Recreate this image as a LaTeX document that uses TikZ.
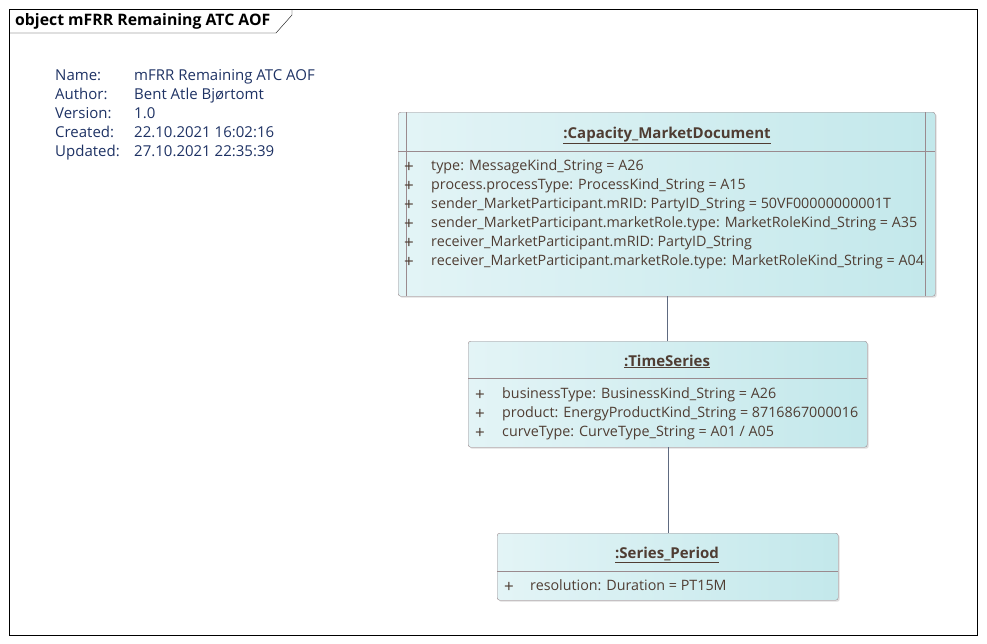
\documentclass[tikz,border=0pt]{standalone}
\usepackage{fontspec}
\setmainfont{Open Sans}
\usepackage{tikz}
\usetikzlibrary{positioning, calc, shadows}
\definecolor{EAFrame}{HTML}{000000}
\definecolor{EAInfo}{HTML}{1E3264}
\definecolor{EABorder}{HTML}{9A8A8E}
\definecolor{EAText}{HTML}{4F3D33}
\definecolor{EAFillLeft}{HTML}{E3F4F6}
\definecolor{EAFillRight}{HTML}{C3E8EB}
\definecolor{EALink}{HTML}{5E6A80}
\tikzset{
    % Object boxes
    objbox/.style={
        rectangle,
        draw=EABorder,
        rounded corners=2.5pt,
        left color=EAFillLeft,
        right color=EAFillRight,
        anchor=north west,
        inner sep=0pt,
        drop shadow={shadow xshift=1.5pt, shadow yshift=-1.5pt, fill=black!22, opacity=0.6}
    },
    objline/.style={
        draw=EABorder
    },
    objtitle/.style={
        inner sep=0pt,
        text=EAText,
        text height=11pt,
        text depth=3pt,
        font=\fontsize{15}{17}\selectfont\bfseries
    },
    attrtext/.style={
        anchor=west,
        inner sep=0pt,
        text=EAText,
        text height=10.5pt,
        text depth=3pt,
        font=\fontsize{14.3}{17}\selectfont
    },
    visibility/.style={
        attrtext,
        font=\fontsize{17}{17}\selectfont
    },
    % Header texts
    infotext/.style={
        anchor=west,
        inner sep=0pt,
        text=EAInfo,
        text height=11pt,
        text depth=3pt,
        font=\fontsize{15}{17}\selectfont
    },
    % Links
    assoc/.style={
        draw=EALink,
        thin
    }
}

\begin{document}
\begin{tikzpicture}[x=1pt, y=-1pt]
    \useasboundingbox (0,0) rectangle (987,643);

    % Frame
    \draw[EAFrame, thin] (9,9) rectangle (977,635);
    \draw[EAFrame, thin] (9,33) -- (276,33) -- (292,15) -- (292,9);
    \node[anchor=west, inner sep=0pt, text height=11pt, text depth=3pt, font=\fontsize{15.8}{17}\selectfont\bfseries] (frametitle) at (15,21) {object mFRR Remaining ATC AOF};

    % Diagram info
    \foreach \k/\v [count=\i] in {Name:/mFRR Remaining ATC AOF, Author:/Bent Atle Bjørtomt, Version:/1.0, Created:/22.10.2021 16:02:16, Updated:/27.10.2021 22:35:39} {
        \node[infotext] (key\i) at (55, 57+19*\i) {\k};
        \node[infotext] (val\i) at (134, 57+19*\i) {\v};
    }

    % Capacity_MarketDocument
    \node[objbox, minimum width=537, minimum height=184] (cmd) at (398,112) {};
    \draw[objline] ($(cmd.north west)+(8,0)$) -- ($(cmd.south west)+(8,0)$);
    \draw[objline] ($(cmd.north east)+(-10,0)$) -- ($(cmd.south east)+(-10,0)$);
    \draw[objline] (cmd.west |- 0,151) -- (cmd.east |- 0,151);
    \node[objtitle] (cmdtitle) at (667,134) {\underline{:Capacity\_MarketDocument}};
    \foreach \a [count=\i] in {
        type: MessageKind\_String = A26,
        process.processType: ProcessKind\_String = A15,
        sender\_MarketParticipant.mRID: PartyID\_String = 50VF00000000001T,
        sender\_MarketParticipant.marketRole.type: MarketRoleKind\_String = A35,
        receiver\_MarketParticipant.mRID: PartyID\_String,
        receiver\_MarketParticipant.marketRole.type: MarketRoleKind\_String = A04} {
        \node[visibility] (cmdvis\i) at (404, 150+19*\i) {+};
        \node[attrtext] (cmdattr\i) at (431, 148+19*\i) {\a};
    }

    % TimeSeries
    \node[objbox, minimum width=399, minimum height=106] (ts) at (468,341) {};
    \draw[objline] (ts.west |- 0,378) -- (ts.east |- 0,378);
    \node[objtitle] (tstitle) at (667,362) {\underline{:TimeSeries}};
    \foreach \a [count=\i] in {
        businessType: BusinessKind\_String = A26,
        product: EnergyProductKind\_String = 8716867000016,
        curveType: CurveType\_String = A01 / A05} {
        \node[visibility] (tsvis\i) at (475, 378+19*\i) {+};
        \node[attrtext] (tsattr\i) at (502, 376+19*\i) {\a};
    }

    % Series_Period
    \node[objbox, minimum width=341, minimum height=67] (sp) at (497,533) {};
    \draw[objline] (sp.west |- 0,571) -- (sp.east |- 0,571);
    \node[objtitle] (sptitle) at (667,554) {\underline{:Series\_Period}};
    \node[visibility] (spvis1) at (504,589) {+};
    \node[attrtext] (spattr1) at (530,587) {resolution: Duration = PT15M};

    % Links
    \draw[assoc] (cmd.south) -- (cmd.south |- ts.north);
    \draw[assoc] (ts.south) -- (sp.north);
\end{tikzpicture}
\end{document}
